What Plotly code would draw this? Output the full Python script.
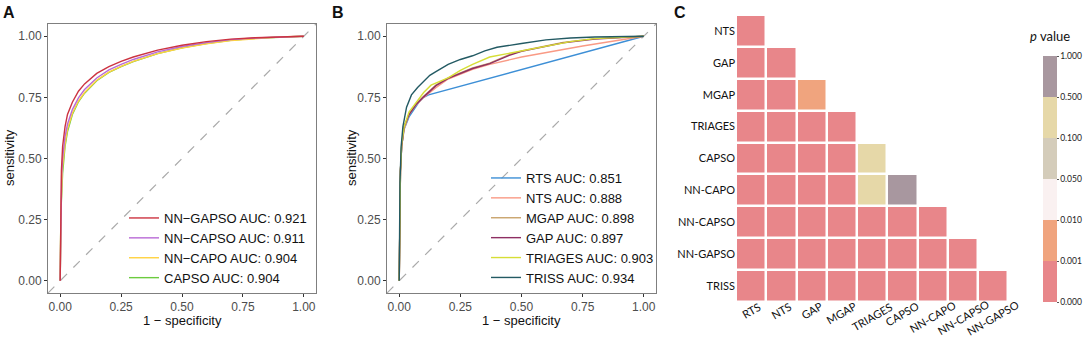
import plotly.graph_objects as go
import numpy as np

# ---------------- Panel A data ----------------
a_names = ["NN\u2212GAPSO AUC: 0.921", "NN\u2212CAPSO AUC: 0.911", "NN\u2212CAPO AUC: 0.904", "CAPSO AUC: 0.904"]
a_colors = ["#CC3340", "#B96AD6", "#FFD23F", "#6CCB3F"]
a_fpr = [
    [0, 0.002, 0.005, 0.01, 0.02, 0.03, 0.05, 0.075, 0.1, 0.15, 0.2, 0.25, 0.3, 0.4, 0.5, 0.6, 0.7, 0.8, 0.9, 1],
    [0, 0.002, 0.006, 0.01, 0.02, 0.03, 0.05, 0.075, 0.1, 0.15, 0.2, 0.25, 0.3, 0.4, 0.5, 0.6, 0.7, 0.8, 0.9, 1],
    [0, 0.003, 0.008, 0.01, 0.02, 0.03, 0.05, 0.075, 0.1, 0.15, 0.2, 0.25, 0.3, 0.4, 0.5, 0.6, 0.7, 0.8, 0.9, 1],
    [0, 0.003, 0.01, 0.015, 0.02, 0.03, 0.05, 0.075, 0.1, 0.15, 0.2, 0.25, 0.3, 0.4, 0.5, 0.6, 0.7, 0.8, 0.9, 1],
]
a_tpr = [
    [0, 0.30, 0.45, 0.55, 0.63, 0.68, 0.73, 0.775, 0.805, 0.848, 0.876, 0.897, 0.915, 0.943, 0.963, 0.978, 0.988, 0.994, 0.998, 1],
    [0, 0.28, 0.43, 0.50, 0.59, 0.64, 0.70, 0.748, 0.782, 0.829, 0.862, 0.885, 0.905, 0.936, 0.958, 0.974, 0.986, 0.993, 0.998, 1],
    [0, 0.28, 0.43, 0.47, 0.56, 0.62, 0.685, 0.735, 0.770, 0.820, 0.853, 0.877, 0.897, 0.929, 0.952, 0.969, 0.982, 0.991, 0.997, 1],
    [0, 0.28, 0.44, 0.50, 0.55, 0.61, 0.68, 0.732, 0.767, 0.818, 0.852, 0.876, 0.896, 0.929, 0.953, 0.970, 0.983, 0.992, 0.997, 1],
]

# ---------------- Panel B data ----------------
b_names = ["RTS AUC: 0.851", "NTS AUC: 0.888", "MGAP AUC: 0.898", "GAP AUC: 0.897", "TRIAGES AUC: 0.903", "TRISS AUC: 0.934"]
b_colors = ["#3D8FD6", "#F99A85", "#C9A36B", "#8E2F63", "#D6DE35", "#235A63"]
b_fpr = [
    [0, 0.005, 0.01, 0.02, 0.04, 0.06, 0.08, 0.1, 0.12, 1],
    [0, 0.005, 0.01, 0.02, 0.04, 0.07, 0.1, 0.15, 0.2, 0.25, 0.3, 0.37, 0.5, 0.75, 1],
    [0, 0.005, 0.01, 0.02, 0.04, 0.07, 0.1, 0.15, 0.2, 0.25, 0.3, 0.37, 0.45, 0.5, 0.6, 0.67, 0.8, 1],
    [0, 0.005, 0.01, 0.02, 0.04, 0.07, 0.1, 0.15, 0.2, 0.25, 0.3, 0.37, 0.45, 0.5, 0.6, 0.67, 0.8, 1],
    [0, 0.005, 0.01, 0.02, 0.04, 0.07, 0.1, 0.13, 0.2, 0.25, 0.3, 0.37, 0.45, 0.5, 0.6, 0.7, 0.8, 1],
    [0, 0.003, 0.008, 0.015, 0.03, 0.05, 0.075, 0.1, 0.125, 0.15, 0.2, 0.25, 0.3, 0.35, 0.4, 0.5, 0.6, 0.7, 0.8, 1],
]
b_tpr = [
    [0, 0.45, 0.55, 0.62, 0.67, 0.70, 0.73, 0.75, 0.76, 1],
    [0, 0.45, 0.55, 0.62, 0.68, 0.72, 0.75, 0.79, 0.825, 0.845, 0.865, 0.885, 0.915, 0.96, 1],
    [0, 0.45, 0.55, 0.63, 0.68, 0.725, 0.755, 0.80, 0.83, 0.85, 0.87, 0.89, 0.925, 0.94, 0.96, 0.975, 0.99, 1],
    [0, 0.45, 0.55, 0.63, 0.68, 0.722, 0.752, 0.798, 0.828, 0.848, 0.868, 0.888, 0.922, 0.938, 0.958, 0.973, 0.988, 1],
    [0, 0.45, 0.56, 0.63, 0.69, 0.73, 0.77, 0.80, 0.83, 0.86, 0.885, 0.915, 0.93, 0.94, 0.96, 0.978, 0.99, 1],
    [0, 0.40, 0.55, 0.63, 0.71, 0.76, 0.79, 0.815, 0.84, 0.855, 0.885, 0.905, 0.92, 0.94, 0.955, 0.97, 0.985, 0.993, 0.997, 1],
]

# ---------------- Panel C data ----------------
c_rows = ["NTS", "GAP", "MGAP", "TRIAGES", "CAPSO", "NN-CAPO", "NN-CAPSO", "NN-GAPSO", "TRISS"]
c_cols = ["RTS", "NTS", "GAP", "MGAP", "TRIAGES", "CAPSO", "NN-CAPO", "NN-CAPSO", "NN-GAPSO"]
# lower-triangle p values (row i has i+1 entries)
c_pvals = [
    [0.0001],
    [0.0001, 0.0001],
    [0.0001, 0.0001, 0.005],
    [0.0001, 0.0001, 0.0001, 0.0001],
    [0.0001, 0.0001, 0.0001, 0.0001, 0.3],
    [0.0001, 0.0001, 0.0001, 0.0001, 0.3, 0.7],
    [0.0001, 0.0001, 0.0001, 0.0001, 0.0001, 0.0001, 0.0001],
    [0.0001, 0.0001, 0.0001, 0.0001, 0.0001, 0.0001, 0.0001, 0.0001],
    [0.0001, 0.0001, 0.0001, 0.0001, 0.0001, 0.0001, 0.0001, 0.0001, 0.0001],
]
p_breaks = [0.0, 0.001, 0.01, 0.05, 0.1, 0.5, 1.0]
p_labels = ["0.000", "0.001", "0.010", "0.050", "0.100", "0.500", "1.000"]
p_colors = ["#E8868A", "#F0A47E", "#FAF1F1", "#D4CCBA", "#E6D8A8", "#A8979F"]

W, H = 1084, 338
def px(x):
    return x / W
def py(y):
    return 1 - y / H

fig = go.Figure()

FONT = "Liberation Sans, Arial, sans-serif"
HFONT = "Lato, DejaVu Sans, sans-serif"

# Panel A
rng = [-0.05, 1.05]
fig.add_trace(go.Scatter(x=rng, y=rng, mode="lines", line=dict(color="#AAAAAA", width=1.2, dash="dash"),
                         showlegend=False, xaxis="x", yaxis="y", hoverinfo="skip"))
for i in reversed(range(len(a_names))):
    fig.add_trace(go.Scatter(x=a_fpr[i], y=a_tpr[i], mode="lines", name=a_names[i],
                             line=dict(color=a_colors[i], width=1.4), xaxis="x", yaxis="y",
                             legend="legend", legendrank=i))
# Panel B
fig.add_trace(go.Scatter(x=rng, y=rng, mode="lines", line=dict(color="#AAAAAA", width=1.2, dash="dash"),
                         showlegend=False, xaxis="x2", yaxis="y2", hoverinfo="skip"))
for i in range(len(b_names)):
    fig.add_trace(go.Scatter(x=b_fpr[i], y=b_tpr[i], mode="lines", name=b_names[i],
                             line=dict(color=b_colors[i], width=1.4), xaxis="x2", yaxis="y2",
                             legend="legend2", legendrank=i))

# Panel C heatmap
n = len(c_rows)
z = [[None] * len(c_cols) for _ in range(n)]
for i, row in enumerate(c_pvals):
    for j, p in enumerate(row):
        band = int(np.digitize(p, p_breaks[1:-1]))
        z[i][j] = band + 0.5
cs = []
nb = len(p_colors)
for k, c in enumerate(p_colors):
    cs.append([k / nb, c])
    cs.append([(k + 1) / nb, c])
fig.add_trace(go.Heatmap(
    z=z, x=c_cols, y=c_rows, xaxis="x3", yaxis="y3", zmin=0, zmax=nb,
    colorscale=cs, xgap=2.5, ygap=2.5, hoverongaps=False,
    colorbar=dict(x=px(1043), xanchor="left", y=py(302), yanchor="bottom", xpad=0, ypad=0,
                  len=(302 - 56) / H, lenmode="fraction", thickness=14,
                  tickvals=list(range(nb + 1)), ticktext=p_labels,
                  ticks="outside", ticklen=2, tickcolor="#555", outlinewidth=0,
                  tickfont=dict(family=HFONT, size=8.5, color="#222")),
))

axis_common = dict(range=rng, showgrid=False, zeroline=False, showline=True, mirror=True,
                   linecolor="#7F7F7F", linewidth=1, ticks="outside", ticklen=3, tickcolor="#333",
                   tickvals=[0, 0.25, 0.5, 0.75, 1.0], ticktext=["0.00", "0.25", "0.50", "0.75", "1.00"],
                   tickfont=dict(family=FONT, size=12, color="#4D4D4D"))

fig.update_layout(
    width=W, height=H, margin=dict(l=0, r=0, t=0, b=0),
    paper_bgcolor="white", plot_bgcolor="white",
    xaxis=dict(domain=[px(48), px(316)], anchor="y", **axis_common),
    yaxis=dict(domain=[py(293), py(24)], anchor="x", **axis_common),
    xaxis2=dict(domain=[px(387), px(656)], anchor="y2", **axis_common),
    yaxis2=dict(domain=[py(293), py(24)], anchor="x2", **axis_common),
    xaxis3=dict(domain=[px(736), px(1023)], anchor="y3", showgrid=False, zeroline=False, showline=False,
                showticklabels=False, ticks=""),
    yaxis3=dict(domain=[py(302), py(15)], anchor="x3", autorange="reversed", showgrid=False, zeroline=False,
                showline=False, ticks="", tickfont=dict(family=HFONT, size=11, color="#111")),
    legend=dict(x=px(124), y=py(293), xanchor="left", yanchor="bottom", bgcolor="rgba(0,0,0,0)",
                font=dict(family=FONT, size=13, color="#111"), tracegroupgap=0, itemwidth=30),
    legend2=dict(x=px(486), y=py(293), xanchor="left", yanchor="bottom", bgcolor="rgba(0,0,0,0)",
                 font=dict(family=FONT, size=13, color="#111"), tracegroupgap=0, itemwidth=30),
)

# axis titles
for cx in [(48 + 316) / 2, (387 + 656) / 2]:
    fig.add_annotation(text="1 \u2212 specificity", x=px(cx), y=py(320), xref="paper", yref="paper",
                       showarrow=False, xanchor="center", yanchor="middle",
                       font=dict(family=FONT, size=13, color="#111"))
for cx in [10, 352]:
    fig.add_annotation(text="sensitivity", x=px(cx), y=py(158), xref="paper", yref="paper",
                       showarrow=False, xanchor="center", yanchor="middle", textangle=-90,
                       font=dict(family=FONT, size=13, color="#111"))

# heatmap column labels (rotated 30 degrees, top of rotated box just under the cells)
for c in c_cols:
    approx_len = 5.6 * len(c)
    half_h = (approx_len * 0.5 + 11 * 0.87) / 2
    fig.add_annotation(text=c, x=c, y=py(302 + half_h), xref="x3", yref="paper", showarrow=False,
                       xanchor="center", yanchor="middle", textangle=-30, borderpad=0,
                       font=dict(family=HFONT, size=11, color="#111"))

for txt, x in [("A", 9), ("B", 338), ("C", 680)]:
    fig.add_annotation(text="<b>%s</b>" % txt, x=px(x), y=py(13), xref="paper", yref="paper",
                       showarrow=False, xanchor="center", yanchor="middle",
                       font=dict(family=FONT, size=16, color="#111"))
fig.add_annotation(text="<i>p</i> value", x=px(1050), y=py(36), xref="paper", yref="paper",
                   showarrow=False, xanchor="center", yanchor="middle",
                   font=dict(family=HFONT, size=13, color="#111"))

fig.write_html("out.html", config={"displayModeBar": False},
               post_script="document.body.style.margin='0';document.body.style.overflow='hidden';")
